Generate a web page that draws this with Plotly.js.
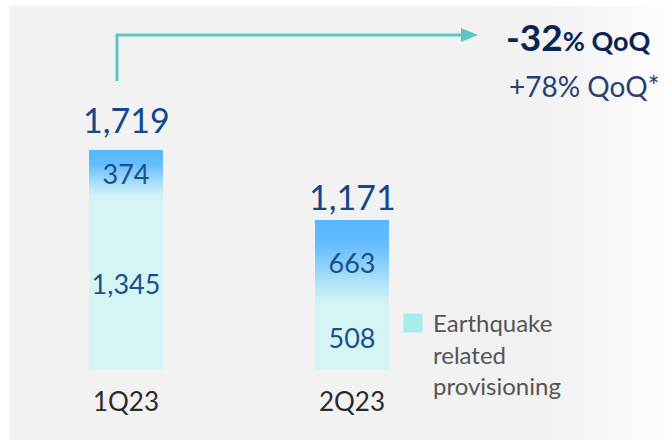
<!DOCTYPE html>
<html>
<head>
<meta charset="utf-8">
<script src="https://cdn.plot.ly/plotly-3.0.1.min.js"></script>
<style>
  html, body { margin: 0; padding: 0; background: #ffffff; }
  #wrap { position: relative; width: 671px; height: 440px; overflow: hidden; }
  #panel { position: absolute; left: 9px; top: 6px; width: 662px; height: 434px;
           background: linear-gradient(to right, #f2f2f2 0%, #f2f2f2 82%, #fdfdfd 100%); }
  #chart { position: absolute; left: 0; top: 0; width: 671px; height: 440px; }
</style>
</head>
<body>
<div id="wrap"><div id="panel"></div><div id="chart"></div></div>
<script>
// ---- data ----
const categories = ['1Q23', '2Q23'];
const earthquakeValues = [1345, 508];
const otherValues = [374, 663];
const totals = categories.map((c, i) => earthquakeValues[i] + otherValues[i]);
const legendLabel = 'Earthquake<br>related<br>provisioning';
const qoqMain = ['-32', '% QoQ'];
const qoqSecondary = '+78% QoQ*';

// ---- layout helpers (pixel -> paper) ----
const W = 671, H = 440;
const M = { l: 0, r: 0, t: 0, b: 70 };
const plotH = H - M.t - M.b;
const px = x => x / (W - M.l - M.r);
const py = y => (plotH - y) / plotH;
const FONT = 'Lato, "Open Sans", sans-serif';
const fmt = v => v.toLocaleString('en-US');

const barWidth = 0.327;
const totalShift = [8, 1];

const traces = [
  {
    type: 'bar', x: categories, y: earthquakeValues, width: barWidth,
    marker: { color: '#d5f5f5' },
    text: earthquakeValues.map(fmt), textposition: 'inside', insidetextanchor: 'middle',
    textangle: 0, constraintext: 'none',
    textfont: { family: FONT, size: 27, color: '#1b4f8d' },
    showlegend: false, hoverinfo: 'none'
  },
  {
    type: 'bar', x: categories, y: otherValues, width: barWidth,
    marker: { color: '#7fc8fb' },
    text: otherValues.map(fmt), textposition: 'inside', insidetextanchor: 'middle',
    textangle: 0, constraintext: 'none',
    textfont: { family: FONT, size: 27, color: '#1b4f8d' },
    showlegend: false, hoverinfo: 'none'
  },
  {
    type: 'scatter', mode: 'markers', x: [null], y: [null],
    name: legendLabel,
    marker: { symbol: 'square', size: 16, color: '#a9ebeb', line: { color: '#a9ebeb', width: 3 } },
    showlegend: true, hoverinfo: 'none'
  }
];

const annotations = categories.map((c, i) => ({
  x: c, y: totals[i], xref: 'x', yref: 'y', yanchor: 'bottom', xanchor: 'center',
  text: fmt(totals[i]), showarrow: false, yshift: totalShift[i],
  font: { family: FONT, size: 34, color: '#11498a' }
}));
annotations.push({
  xref: 'paper', yref: 'paper', x: px(504), y: py(37), xanchor: 'left', yanchor: 'middle',
  text: '<b>' + qoqMain[0] + '</b><b><span style="font-size:27px">' + qoqMain[1] + '</span></b>',
  showarrow: false, font: { family: FONT, size: 37, color: '#0a2551' }
});
annotations.push({
  xref: 'paper', yref: 'paper', x: px(507), y: py(86), xanchor: 'left', yanchor: 'middle',
  text: qoqSecondary, showarrow: false, font: { family: FONT, size: 28, color: '#2a3f6e' }
});

const arrowColor = '#5cc6c6';
const shapes = [
  { type: 'path', xref: 'paper', yref: 'paper', layer: 'above',
    path: `M ${px(117)} ${py(81)} L ${px(117)} ${py(35)} L ${px(463)} ${py(35)}`,
    line: { color: arrowColor, width: 3 } },
  { type: 'path', xref: 'paper', yref: 'paper', layer: 'above',
    path: `M ${px(461)} ${py(28)} L ${px(478)} ${py(35)} L ${px(461)} ${py(42)} Z`,
    fillcolor: arrowColor, line: { color: arrowColor, width: 0 } }
];

const layout = {
  width: W, height: H, margin: M,
  paper_bgcolor: 'rgba(0,0,0,0)', plot_bgcolor: 'rgba(0,0,0,0)',
  barmode: 'stack',
  font: { family: FONT },
  xaxis: {
    type: 'category', range: [-126 / 226, (W - 126) / 226],
    showgrid: false, zeroline: false, showline: false, ticks: '',
    ticklabelstandoff: 14,
    tickfont: { family: FONT, size: 26, color: '#2a2a2a' }, fixedrange: true
  },
  yaxis: { visible: false, range: [0, plotH * 1719 / 220], fixedrange: true },
  showlegend: true,
  legend: {
    x: px(393), y: py(301), xanchor: 'left', yanchor: 'top',
    bgcolor: 'rgba(0,0,0,0)', borderwidth: 0, valign: 'top',
    font: { family: FONT, size: 24, color: '#555555' }
  },
  annotations: annotations,
  shapes: shapes
};

Plotly.newPlot('chart', traces, layout, { displayModeBar: false, staticPlot: true }).then(gd => {
  const svg = gd.querySelector('svg.main-svg');
  const ns = 'http://www.w3.org/2000/svg';
  let defs = svg.querySelector('defs');
  if (!defs) { defs = document.createElementNS(ns, 'defs'); svg.insertBefore(defs, svg.firstChild); }
  const grad = document.createElementNS(ns, 'linearGradient');
  grad.setAttribute('id', 'topGrad');
  grad.setAttribute('x1', '0'); grad.setAttribute('y1', '0');
  grad.setAttribute('x2', '0'); grad.setAttribute('y2', '1');
  [['0', '#55b7ff'], ['0.3', '#66bdfc'], ['0.75', '#b3e4f8'], ['1', '#d6f5f6']].forEach(([o, c]) => {
    const s = document.createElementNS(ns, 'stop');
    s.setAttribute('offset', o); s.setAttribute('stop-color', c);
    grad.appendChild(s);
  });
  defs.appendChild(grad);
  const barTraces = gd.querySelectorAll('.barlayer .trace');
  if (barTraces[1]) {
    barTraces[1].querySelectorAll('path').forEach(p => { p.style.fill = 'url(#topGrad)'; });
  }
});
</script>
</body>
</html>
